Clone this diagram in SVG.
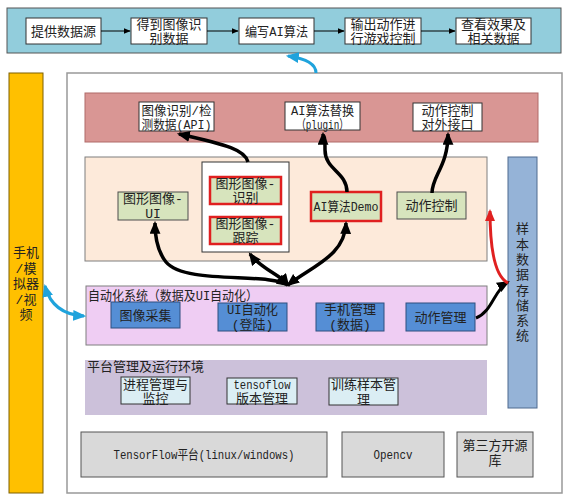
<svg xmlns="http://www.w3.org/2000/svg" width="569" height="501" viewBox="0 0 569 501">
<style>
text{font-family:'Liberation Mono','Noto Sans CJK SC',monospace;font-size:13px;fill:#222;text-anchor:middle}
.t{text-anchor:start}
.wb{fill:#fff;stroke:#333;stroke-width:1}
.gr{fill:#d7e4bd;stroke:#4d4d4d;stroke-width:1}
.rd{stroke:#e02020;stroke-width:2.5}
.bl{fill:#558ed5;stroke:#2f4f7f;stroke-width:1}
.cy{fill:#dbeef4;stroke:#333;stroke-width:1}
.gy{fill:#d9d9d9;stroke:#555;stroke-width:1}
.k{fill:none;stroke:#000;stroke-width:3.5}
</style>
<defs>
<marker id="ah" viewBox="0 0 10 10" refX="9" refY="5" markerWidth="7" markerHeight="7" orient="auto"><path d="M0,1 L10,5 L0,9 z" fill="#000"/></marker>
<marker id="bk" viewBox="0 0 12 10" refX="10" refY="5" markerUnits="userSpaceOnUse" markerWidth="13" markerHeight="11" orient="auto-start-reverse"><path d="M0,0 L12,5 L0,10 z" fill="#000"/></marker>
<marker id="bu" viewBox="0 0 12 10" refX="10" refY="5" markerUnits="userSpaceOnUse" markerWidth="13" markerHeight="11" orient="auto-start-reverse"><path d="M0,0 L12,5 L0,10 z" fill="#1fa3dc"/></marker>
<marker id="rm" viewBox="0 0 12 10" refX="10" refY="5" markerUnits="userSpaceOnUse" markerWidth="12" markerHeight="10" orient="auto"><path d="M0,0 L12,5 L0,10 z" fill="#e02020"/></marker>
</defs>

<g id="top-bar">
<rect x="7" y="8" width="554" height="45" fill="#92cddc" stroke="#555" stroke-width="1"/>
<rect class="wb" x="26" y="18" width="75" height="26"/><text x="63.5" y="35.5">提供数据源</text>
<rect class="wb" x="131" y="18" width="76" height="26"/><text x="169" y="29">得到图像识</text><text x="169" y="43">别数据</text>
<rect class="wb" x="239" y="18" width="75" height="26"/><text x="276.5" y="35.5" textLength="63" lengthAdjust="spacingAndGlyphs">编写AI算法</text>
<rect class="wb" x="345" y="18" width="76" height="26"/><text x="383" y="29">输出动作进</text><text x="383" y="43">行游戏控制</text>
<rect class="wb" x="456" y="18" width="75" height="26"/><text x="493.5" y="29">查看效果及</text><text x="493.5" y="43">相关数据</text>
</g>

<g id="device">
<rect x="9" y="73" width="34" height="420" fill="#ffc000" stroke="#7f6000" stroke-width="1"/>
<text x="26" y="257" font-size="14">手机</text>
<text x="26" y="273" font-size="14">/模</text>
<text x="26" y="288" font-size="14">拟器</text>
<text x="26" y="304" font-size="14">/视</text>
<text x="26" y="319" font-size="14">频</text>
</g>

<g id="frame">
<rect x="67" y="73" width="495" height="420" fill="#fff" stroke="#999" stroke-width="1.5"/>
</g>

<g id="interface-layer">
<rect x="85" y="93" width="453" height="49" fill="#d99694" stroke="#b06a68" stroke-width="1"/>
<rect class="wb" x="139" y="102" width="75" height="29"/><text x="176.5" y="114.5" textLength="70" lengthAdjust="spacingAndGlyphs">图像识别/检</text><text x="176.5" y="129" textLength="70" lengthAdjust="spacingAndGlyphs">测数据(API)</text>
<rect class="wb" x="285" y="102" width="75" height="28"/><text x="322.5" y="114.5" textLength="63" lengthAdjust="spacingAndGlyphs">AI算法替换</text><text x="322.5" y="128.5" textLength="52" lengthAdjust="spacingAndGlyphs">（plugin）</text>
<rect class="wb" x="413" y="103" width="69" height="28"/><text x="447.5" y="115">动作控制</text><text x="447.5" y="129">对外接口</text>
</g>

<g id="graphics-layer">
<rect x="85" y="157" width="402" height="104" fill="#fdeada" stroke="#7f7f7f" stroke-width="1"/>
<rect class="gr" x="118" y="192" width="70" height="28"/><text x="153" y="203">图形图像-</text><text x="153" y="218">UI</text>
<rect class="wb" x="202" y="162" width="87" height="90"/>
<rect class="gr rd" x="210" y="177" width="71" height="27"/><text x="245.5" y="188">图形图像-</text><text x="245.5" y="202">识别</text>
<rect class="gr rd" x="210" y="217" width="71" height="27"/><text x="245.5" y="228">图形图像-</text><text x="245.5" y="242">跟踪</text>
<rect class="gr rd" x="311" y="192" width="70" height="29"/><text x="346" y="211" textLength="65" lengthAdjust="spacingAndGlyphs">AI算法Demo</text>
<rect class="gr" x="397" y="192" width="69" height="27"/><text x="431.5" y="210">动作控制</text>
</g>

<g id="storage">
<rect x="508" y="157" width="29" height="251" fill="#95b3d7" stroke="#4f6a8f" stroke-width="1"/>
<text x="522.5" font-size="14" fill="#333"><tspan x="522.5" y="233">样</tspan><tspan x="522.5" y="248.5">本</tspan><tspan x="522.5" y="264">数</tspan><tspan x="522.5" y="279">据</tspan><tspan x="522.5" y="295">存</tspan><tspan x="522.5" y="310">储</tspan><tspan x="522.5" y="325">系</tspan><tspan x="522.5" y="340">统</tspan></text>
</g>

<g id="automation-layer">
<rect x="86" y="286" width="401" height="59" fill="#efcdf3" stroke="#7f7f7f" stroke-width="1"/>
<text class="t" x="88" y="300" font-size="12.5" textLength="170" lengthAdjust="spacingAndGlyphs">自动化系统（数据及UI自动化）</text>
<rect class="bl rd" x="111" y="302" width="69" height="26"/><text x="145.5" y="320">图像采集</text>
<rect class="bl" x="218" y="303" width="69" height="28"/><text x="252.5" y="314" textLength="51" lengthAdjust="spacingAndGlyphs">UI自动化</text><text x="252.5" y="329">(登陆)</text>
<rect class="bl" x="316" y="303" width="68" height="28"/><text x="350" y="314">手机管理</text><text x="350" y="329">(数据)</text>
<rect class="bl" x="406" y="303" width="69" height="28"/><text x="440.5" y="322">动作管理</text>
</g>

<g id="platform-layer">
<rect x="85" y="360" width="402" height="55" fill="#ccc1da"/>
<text class="t" x="87" y="371" font-size="12">平台管理及运行环境</text>
<rect class="cy" x="121" y="377" width="69" height="27"/><text x="155.5" y="388.5" font-size="12">进程管理与</text><text x="155.5" y="403" font-size="12.5">监控</text>
<rect class="cy" x="227" y="378" width="70" height="26"/><text x="262" y="389" textLength="57" lengthAdjust="spacingAndGlyphs">tensoflow</text><text x="262" y="403">版本管理</text>
<rect class="cy" x="329" y="378" width="69" height="27"/><text x="363.5" y="389">训练样本管</text><text x="363.5" y="404">理</text>
</g>

<g id="base-layer">
<rect class="gy" x="81" y="432" width="246" height="45"/><text x="204" y="459" textLength="181" lengthAdjust="spacingAndGlyphs">TensorFlow平台(linux/windows)</text>
<rect class="gy" x="342" y="432" width="102" height="45"/><text x="393" y="459" textLength="39" lengthAdjust="spacingAndGlyphs">Opencv</text>
<rect class="gy" x="457" y="432" width="76" height="45"/><text x="495" y="450">第三方开源</text><text x="495" y="465">库</text>
</g>

<g id="connectors">
<line x1="101" y1="31" x2="130" y2="31" stroke="#000" stroke-width="1" marker-end="url(#ah)"/>
<line x1="207" y1="31" x2="238" y2="31" stroke="#000" stroke-width="1" marker-end="url(#ah)"/>
<line x1="314" y1="31" x2="344" y2="31" stroke="#000" stroke-width="1" marker-end="url(#ah)"/>
<line x1="421" y1="31" x2="455" y2="31" stroke="#000" stroke-width="1" marker-end="url(#ah)"/>
<path d="M316,73 C316,63 302,58 288,56" fill="none" stroke="#1fa3dc" stroke-width="3" marker-end="url(#bu)"/>
<path d="M45,286 C50,305 64,315 84,316" fill="none" stroke="#1fa3dc" stroke-width="3" marker-start="url(#bu)" marker-end="url(#bu)"/>
<path class="k" d="M248,162 C245,150 228,145 179,134" marker-end="url(#bk)"/>
<path class="k" d="M347,192 C347,172 325,170 325,150 S323,139 323,134" marker-end="url(#bk)"/>
<path class="k" d="M432,193 C432,176 448,166 448,134" marker-end="url(#bk)"/>
<path class="k" d="M288,285 C268,272 185,285 166,262 C158,252 155,238 155,223" marker-start="url(#bk)" marker-end="url(#bk)"/>
<path class="k" d="M288,285 C280,274 262,270 250,254" marker-start="url(#bk)" marker-end="url(#bk)"/>
<path class="k" d="M288,285 C312,266 345,256 346,223" marker-start="url(#bk)" marker-end="url(#bk)"/>
<path d="M476,318 C492,312 494,290 508,282" fill="none" stroke="#000" stroke-width="3" marker-end="url(#bk)"/>
<path d="M508,283 C494,276 490,245 490,211" fill="none" stroke="#e02020" stroke-width="3" marker-end="url(#rm)"/>
</g>
</svg>
